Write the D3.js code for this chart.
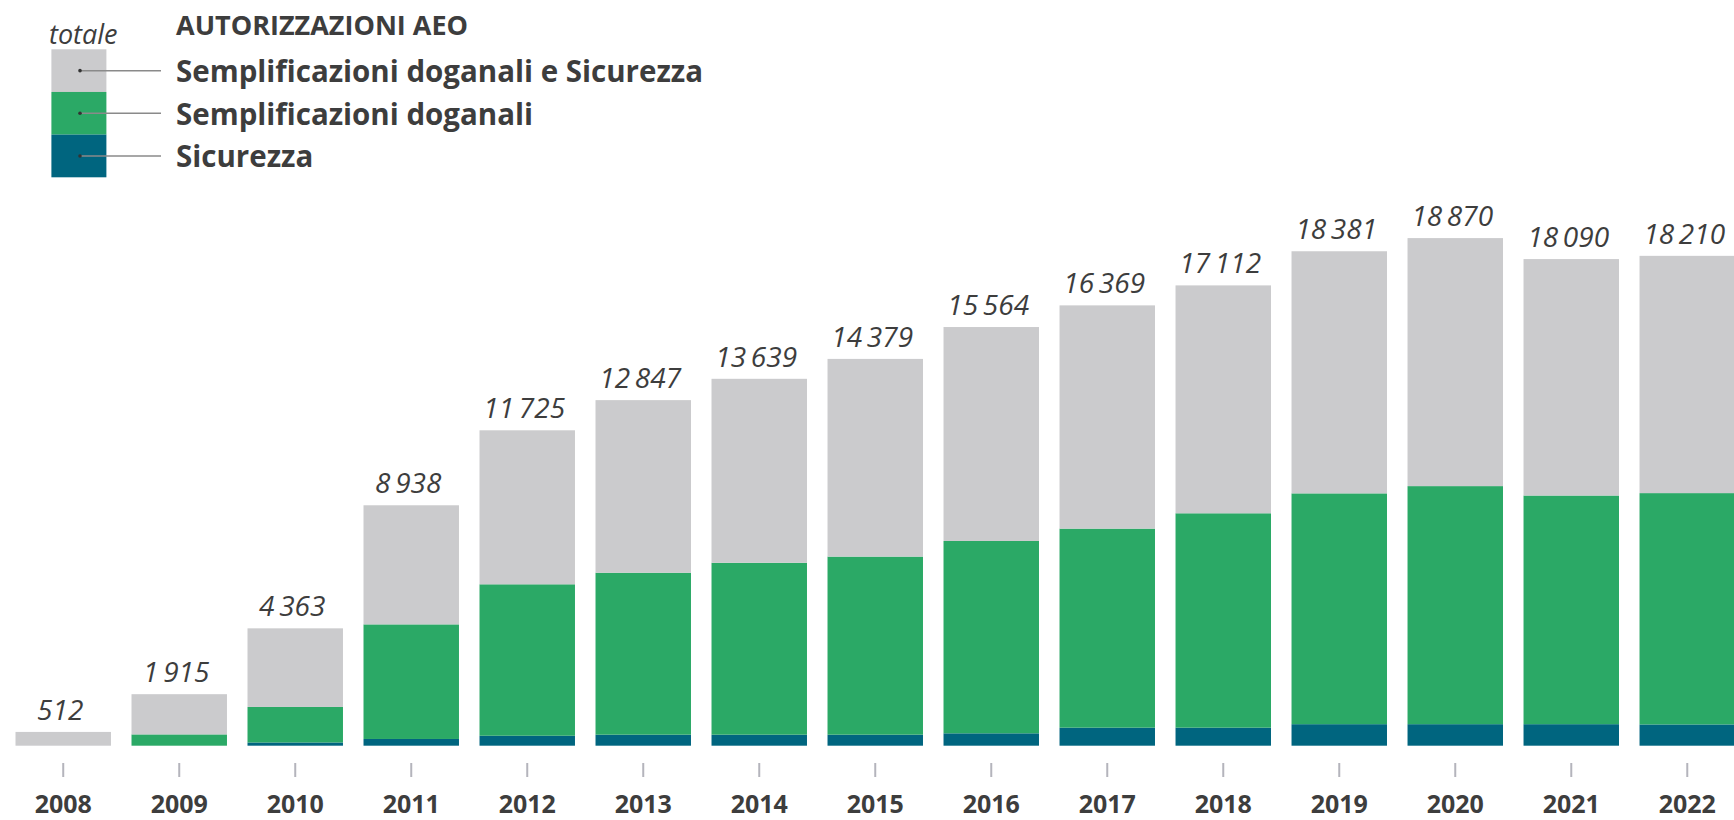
<!DOCTYPE html>
<meta charset="utf-8">
<head>
  <title>Autorizzazioni AEO</title>
  <script src="https://d3js.org/d3.v7.min.js"></script>
  <style>
    body { margin: 0; background: #fff; }
    text { font-family: "Open Sans", sans-serif; fill: #3d3d3d; }
  </style>
</head>
<body>
  <div id="display"></div>
  <script>

    // dati
    var years = ["2008","2009","2010","2011","2012","2013","2014","2015","2016","2017","2018","2019","2020","2021","2022"];
    var totals = [512, 1915, 4363, 8938, 11725, 12847, 13639, 14379, 15564, 16369, 17112, 18381, 18870, 18090, 18210];
    var sicurezza = [0, 0, 120, 250, 370, 410, 410, 410, 460, 670, 670, 800, 800, 800, 790];
    var semplificazioni = [0, 420, 1320, 4260, 5630, 6020, 6390, 6620, 7150, 7400, 7970, 8580, 8850, 8500, 8600];
    var entrambe = [512, 1495, 2923, 4428, 5725, 6417, 6839, 7349, 7954, 8299, 8472, 9001, 9220, 8790, 8820];

    var seriesKeys = ["sicurezza", "semplificazioni", "entrambe"];
    var seriesLabels = {
      entrambe: "Semplificazioni doganali e Sicurezza",
      semplificazioni: "Semplificazioni doganali",
      sicurezza: "Sicurezza"
    };
    var colors = { sicurezza: "#00657f", semplificazioni: "#2ba966", entrambe: "#cbcbcd" };

    var table = years.map(function(y, i) {
      return { year: y, total: totals[i], sicurezza: sicurezza[i], semplificazioni: semplificazioni[i], entrambe: entrambe[i] };
    });

    var width = 1734, height = 820,
        baseline = 745.7;

    var svg = d3.select("#display")
      .append("svg")
        .attr("width", width)
        .attr("height", height);

    var x = d3.scaleBand()
        .domain(years)
        .range([15.5, 1735])
        .paddingInner(0.177)
        .paddingOuter(0);

    var y = d3.scaleLinear()
        .domain([0, 20000])
        .range([baseline, baseline - 538]);

    var stacked = d3.stack().keys(seriesKeys)(table);

    svg.append("g")
      .selectAll("g")
      .data(stacked)
      .enter()
      .append("g")
        .attr("fill", function(d) { return colors[d.key]; })
      .selectAll("rect")
      .data(function(d) { return d; })
      .enter()
      .append("rect")
        .attr("x", function(d) { return x(d.data.year); })
        .attr("y", function(d) { return y(d[1]); })
        .attr("width", x.bandwidth())
        .attr("height", function(d) { return y(d[0]) - y(d[1]); });

    // etichette totali
    var fmt = d3.formatLocale({ decimal: ",", thousands: "\u2009", grouping: [3], currency: ["", "€"] }).format(",d");

    svg.append("g")
      .selectAll("text")
      .data(table)
      .enter()
      .append("text")
        .attr("x", function(d) { return x(d.year) + x.bandwidth() / 2 - 3; })
        .attr("y", function(d) { return y(d.total) - 12; })
        .attr("text-anchor", "middle")
        .style("font-size", "28px")
        .style("font-style", "italic")
        .text(function(d) { return fmt(d.total); });

    // asse anni
    var axis = svg.append("g")
        .attr("transform", "translate(0," + 763 + ")")
        .call(d3.axisBottom(x).tickSize(14).tickPadding(18));
    axis.select(".domain").remove();
    axis.selectAll(".tick line").attr("stroke", "#b4b4bc").attr("stroke-width", 2);
    axis.selectAll(".tick text")
        .attr("fill", "#3d3d3d")
        .style("font-family", "'Open Sans', sans-serif")
        .style("font-size", "25px")
        .style("font-weight", "700");

    // legenda
    var legend = svg.append("g");
    var ly = d3.scaleBand()
        .domain(seriesKeys.slice().reverse())
        .range([49.3, 177.3]);

    legend.append("text")
        .attr("x", 49)
        .attr("y", 44)
        .style("font-size", "27px")
        .style("font-style", "italic")
        .text("totale");

    legend.append("text")
        .attr("x", 176)
        .attr("y", 35)
        .style("font-size", "27px")
        .style("font-weight", "700")
        .text("AUTORIZZAZIONI AEO");

    var item = legend.selectAll("g.item")
      .data(ly.domain())
      .enter()
      .append("g")
        .attr("class", "item");

    item.append("rect")
        .attr("x", 51.4)
        .attr("y", function(d) { return ly(d); })
        .attr("width", 55)
        .attr("height", ly.bandwidth())
        .attr("fill", function(d) { return colors[d]; });

    item.append("line")
        .attr("x1", 80)
        .attr("x2", 161)
        .attr("y1", function(d) { return ly(d) + ly.bandwidth() / 2; })
        .attr("y2", function(d) { return ly(d) + ly.bandwidth() / 2; })
        .attr("stroke", "#8a8a8a")
        .attr("stroke-width", 1.5);

    item.append("circle")
        .attr("cx", 80)
        .attr("cy", function(d) { return ly(d) + ly.bandwidth() / 2; })
        .attr("r", 1.8)
        .attr("fill", "#333");

    item.append("text")
        .attr("x", 176)
        .attr("y", function(d) { return ly(d) + ly.bandwidth() / 2 + 11.5; })
        .style("font-size", "29.5px")
        .style("font-weight", "700")
        .text(function(d) { return seriesLabels[d]; });

  </script>
</body>
